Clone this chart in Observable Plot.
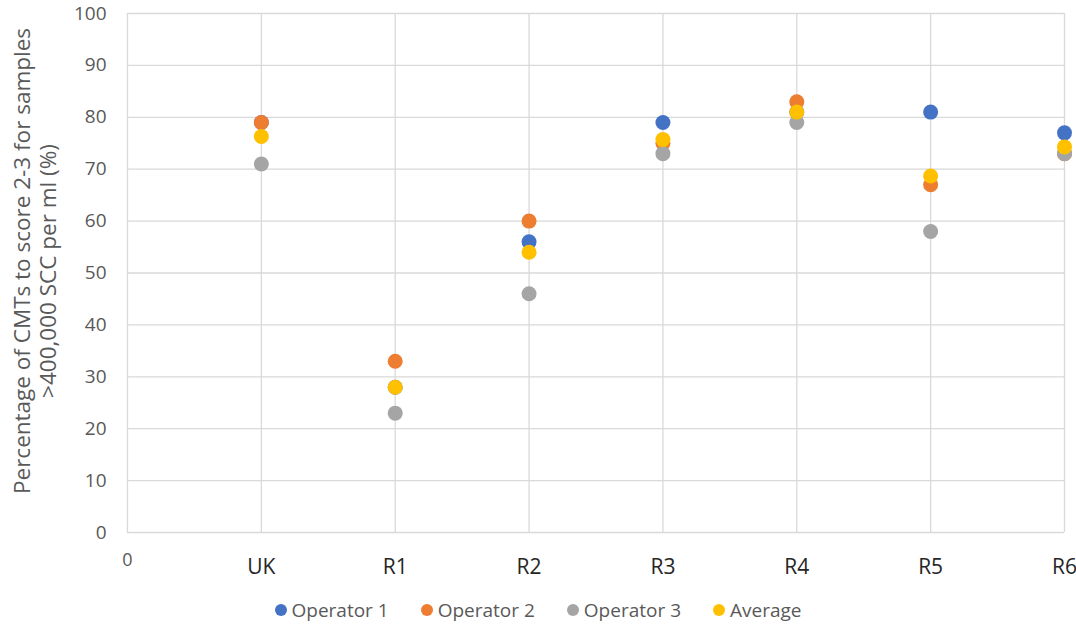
<!DOCTYPE html>
<html>
<head>
<meta charset="utf-8">
<script src="https://cdn.jsdelivr.net/npm/d3@7"></script>
<script src="https://cdn.jsdelivr.net/npm/@observablehq/plot@0.6"></script>
<style>
  body { margin: 0; background: #fff; font-family: "Open Sans", sans-serif; }
  #legend { display: flex; justify-content: center; align-items: center; gap: 32px; height: 38px; font-size: 19px; color: #595959; margin-top: 1px; }
  #legend .item { display: flex; align-items: center; gap: 5px; }
  #legend .sw { width: 12px; height: 12px; border-radius: 50%; display: inline-block; }
</style>
</head>
<body>
<div id="chart"></div>
<div id="legend"></div>
<script>
const categories = ["UK", "R1", "R2", "R3", "R4", "R5", "R6"];
const operator1 = [79, 28, 56, 79, 81, 81, 77];
const operator2 = [79, 33, 60, 75, 83, 67, 73];
const operator3 = [71, 23, 46, 73, 79, 58, 73];
const average = [76.3, 28, 54, 75.7, 81, 68.7, 74.3];
const seriesNames = ["Operator 1", "Operator 2", "Operator 3", "Average"];
const seriesColors = ["#4472C4", "#ED7D31", "#A5A5A5", "#FFC000"];
const yTicks = [0, 10, 20, 30, 40, 50, 60, 70, 80, 90, 100];
const yTitle1 = "Percentage of CMTs to score 2-3 for samples";
const yTitle2 = ">400,000 SCC per ml (%)";

const allSeries = [operator1, operator2, operator3, average];
const rows = [];
allSeries.forEach((vals, s) => {
  vals.forEach((v, i) => rows.push({x: i + 1, y: v, series: seriesNames[s]}));
});
const xPositions = d3.range(0, categories.length + 1);

const chart = Plot.plot({
  width: 1076,
  height: 590,
  marginLeft: 127,
  marginRight: 12,
  marginTop: 13,
  marginBottom: 58,
  style: {fontFamily: "Open Sans, sans-serif", background: "#fff"},
  x: {domain: [0, categories.length]},
  y: {domain: [0, 100]},
  color: {domain: seriesNames, range: seriesColors},
  marks: [
    Plot.ruleY(yTicks, {stroke: "#D9D9D9", strokeWidth: 1.3}),
    Plot.ruleX(xPositions, {stroke: "#D9D9D9", strokeWidth: 1.3}),
    Plot.axisY({ticks: yTicks, tickSize: 0, tickPadding: 21, fontSize: 19, color: "#595959", label: null}),
    Plot.axisX({ticks: [0], tickSize: 0, tickPadding: 21, fontSize: 18, color: "#595959", label: null, tickFormat: d => String(d)}),
    Plot.axisX({ticks: d3.range(1, categories.length + 1), tickSize: 0, tickPadding: 27, fontSize: 21, color: "#262626", label: null, tickFormat: d => categories[d - 1]}),
    Plot.text([yTitle1], {frameAnchor: "left", textAnchor: "middle", dx: -105, dy: -12, rotate: -90, fontSize: 22.5, fill: "#595959", text: d => d}),
    Plot.text([yTitle2], {frameAnchor: "left", textAnchor: "middle", dx: -79, dy: -2, rotate: -90, fontSize: 22.5, fill: "#595959", text: d => d}),
    Plot.dot(rows, {x: "x", y: "y", fill: "series", r: 7.5, stroke: null})
  ]
});
document.getElementById("chart").appendChild(chart);

const legend = document.getElementById("legend");
seriesNames.forEach((name, i) => {
  const item = document.createElement("span");
  item.className = "item";
  const sw = document.createElement("span");
  sw.className = "sw";
  sw.style.background = seriesColors[i];
  item.appendChild(sw);
  item.appendChild(document.createTextNode(name));
  legend.appendChild(item);
});
</script>
</body>
</html>
